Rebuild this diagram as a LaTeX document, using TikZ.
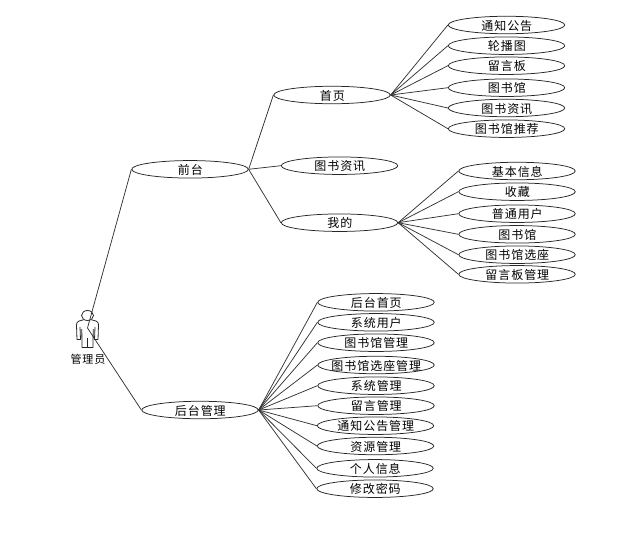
\documentclass[tikz,border=0pt]{standalone}
\usepackage{fontspec}
\newfontfamily\cjk[LetterSpace=8]{Noto Sans CJK SC}
\usetikzlibrary{shapes.geometric}
\newcommand{\tx}[1]{\smash{\raisebox{-5.2pt}{\makebox[0pt]{\hspace{0.6pt}#1}}}}
\tikzset{
  uc/.style={draw=black!85,fill=white,ellipse,line width=0.75pt,minimum width=116.5pt,minimum height=17.5pt,inner sep=0pt,font=\cjk\fontsize{12}{12}\selectfont,text=black},
  link/.style={draw=black!80,line width=0.75pt},
  actorline/.style={draw=black!85,line width=0.8pt,line join=round},
  lbl/.style={inner sep=0pt,font=\cjk\fontsize{11}{11}\selectfont,text=black}
}
\begin{document}
\begin{tikzpicture}[x=1pt,y=-1pt]
\useasboundingbox (0,0) rectangle (636,533);
% actor
\draw[actorline] (87.5,315.5) ellipse (6 and 5);
\draw[actorline] (83.5,319.8) -- (79,321) .. controls (77,322) and (76.5,323) .. (76.5,325) -- (77,339.5) -- (80.5,339.5) -- (80,327)
  (81.8,329) -- (82,347.5) -- (93,347.5) -- (93.2,329)
  (91.5,319.8) -- (96,321) .. controls (98,322) and (98.5,323) .. (98.5,325) -- (98,339.5) -- (94.5,339.5) -- (95,327)
  (87.5,338) -- (87.5,347.5);
\coordinate (actor) at (87.5,328);
\node[lbl] (actorlabel) at (88,359) {管理员};
% level 1
\node[uc] (front) at (190,169.3) {\tx{前台}};
\node[uc] (back) at (200,410) {\tx{后台管理}};
% level 2
\node[uc] (home) at (332,95) {\tx{首页}};
\node[uc] (news) at (339.5,165.7) {\tx{图书资讯}};
\node[uc] (mine) at (339.5,222.7) {\tx{我的}};
% home children
\node[uc] (h1) at (506.5,25) {\tx{通知公告}};
\node[uc] (h2) at (506.5,45.7) {\tx{轮播图}};
\node[uc] (h3) at (506.5,65.7) {\tx{留言板}};
\node[uc] (h4) at (506.5,87.7) {\tx{图书馆}};
\node[uc] (h5) at (506.5,108) {\tx{图书资讯}};
\node[uc] (h6) at (506.5,128.7) {\tx{图书馆推荐}};
% mine children
\node[uc] (m1) at (517,171) {\tx{基本信息}};
\node[uc] (m2) at (517,191.7) {\tx{收藏}};
\node[uc] (m3) at (517,213.7) {\tx{普通用户}};
\node[uc] (m4) at (517,234.3) {\tx{图书馆}};
\node[uc] (m5) at (517,254.7) {\tx{图书馆选座}};
\node[uc] (m6) at (517,274.3) {\tx{留言板管理}};
% back children
\node[uc] (b1) at (376,302.3) {\tx{后台首页}};
\node[uc] (b2) at (376,322.3) {\tx{系统用户}};
\node[uc] (b3) at (376,342.7) {\tx{图书馆管理}};
\node[uc] (b4) at (376,365) {\tx{图书馆选座管理}};
\node[uc] (b5) at (376,385.7) {\tx{系统管理}};
\node[uc] (b6) at (376,405.7) {\tx{留言管理}};
\node[uc] (b7) at (375.5,425.7) {\tx{通知公告管理}};
\node[uc] (b8) at (375.5,446) {\tx{资源管理}};
\node[uc] (b9) at (375,468.3) {\tx{个人信息}};
\node[uc] (b10) at (375,488.7) {\tx{修改密码}};
% connectors
\draw[link] (actor) -- (front.west);
\draw[link] (actor) -- (back.west);
\foreach \t in {home,news,mine} \draw[link] (front.east) -- (\t.west);
\foreach \t in {h1,h2,h3,h4,h5,h6} \draw[link] (home.east) -- (\t.west);
\foreach \t in {m1,m2,m3,m4,m5,m6} \draw[link] (mine.east) -- (\t.west);
\foreach \t in {b1,b2,b3,b4,b5,b6,b7,b8,b9,b10} \draw[link] (back.east) -- (\t.west);
\end{tikzpicture}
\end{document}
